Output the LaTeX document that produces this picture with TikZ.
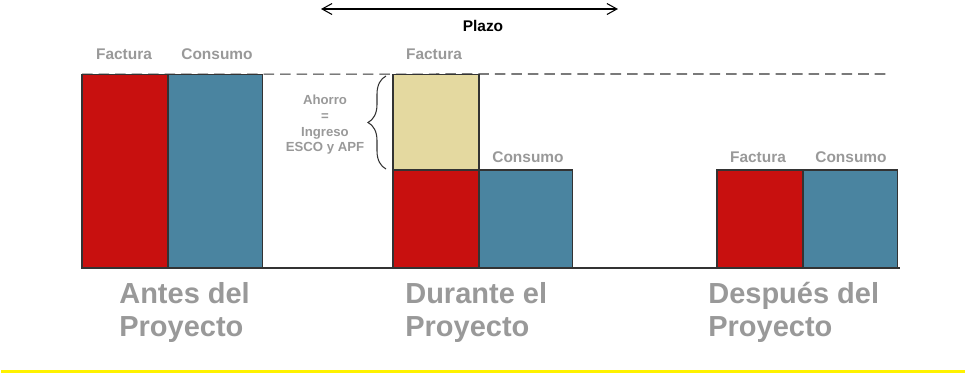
\documentclass[tikz,border=0pt]{standalone}
\usepackage{fontspec}
\setmainfont{Liberation Sans}
\usetikzlibrary{arrows.meta,positioning,decorations.pathreplacing}

\definecolor{factura}{HTML}{C8100F}
\definecolor{consumo}{HTML}{4A84A0}
\definecolor{ahorro}{HTML}{E4D9A0}
\definecolor{gristexto}{HTML}{999999}
\definecolor{linea}{HTML}{333333}

\begin{document}
\begin{tikzpicture}
[x=0.02cm, y=-0.02cm,
% STYLES
% bar is used for every column of the chart
bar/.style={rectangle, draw=linea, line width=0.6pt, inner sep=0pt, outer sep=0pt, minimum width=1.72cm},
% etiq is used for the small grey names above the columns
etiq/.style={anchor=base, inner sep=0pt, text=gristexto, font=\fontsize{8.8}{10.5}\selectfont\bfseries},
% fase is used for the three big names below the base line
fase/.style={anchor=north west, inner sep=0pt, align=left, text=gristexto, font=\fontsize{16.5}{18.8}\selectfont\bfseries},
% nota is used for the text beside the brace
nota/.style={anchor=north, inner sep=0pt, align=center, text=gristexto, font=\fontsize{7.5}{8.9}\selectfont\bfseries}]

\useasboundingbox (0,0) rectangle (965,373);

% Antes del proyecto
\node [bar, fill=factura, minimum height=3.88cm, anchor=south west] (antesfac) at (82,268) {};
\node [bar, fill=consumo, minimum height=3.88cm, minimum width=1.90cm, right=0pt of antesfac] (antescon) {};

% Durante el proyecto
\node [bar, fill=factura, minimum height=1.96cm, anchor=south west] (durfac) at (393,268) {};
\node [bar, fill=ahorro, minimum height=1.92cm, above=0pt of durfac] (durahorro) {};
\node [bar, fill=consumo, minimum height=1.96cm, minimum width=1.88cm, right=0pt of durfac] (durcon) {};

% Despues del proyecto
\node [bar, fill=factura, minimum height=1.96cm, anchor=south west] (despfac) at (717,268) {};
\node [bar, fill=consumo, minimum height=1.96cm, minimum width=1.90cm, right=0pt of despfac] (despcon) {};

% Base line and level of the old bill
\coordinate (base-a) at (82,268);
\coordinate (base-b) at (900,268);
\coordinate (nivel-b) at (890,74);
\draw [linea, line width=0.6pt] (base-a) -- (base-b);
\draw [linea, line width=0.6pt, dash pattern=on 6pt off 3.4pt] (antesfac.north west) -- (nivel-b);

%%%%%%%%%%%%%%%
% Labels of the columns
\node [etiq] (l-antesfac) at (124,59) {Factura};
\node [etiq] (l-antescon) at (217,59) {Consumo};
\node [etiq] (l-durfac) at (434,59) {Factura};
\node [etiq] (l-durcon) at (528,162) {Consumo};
\node [etiq] (l-despfac) at (758,162) {Factura};
\node [etiq] (l-despcon) at (851,162) {Consumo};

% Phases
\node [fase] (antes) at (119,282) {Antes del\\Proyecto};
\node [fase] (durante) at (405,282) {Durante el\\Proyecto};
\node [fase] (despues) at (708,282) {Despu\'es del\\Proyecto};

% Brace for the saving
\coordinate (llave-a) at (386,169);
\coordinate (llave-b) at (386,76);
\draw [linea, line width=0.6pt, decorate, decoration={brace, amplitude=0.36cm}] (llave-a) -- (llave-b);
\node [nota] (ahorro) at (325,95) {Ahorro\\=\\Ingreso\\ESCO y APF};

% Plazo
\coordinate (plazo-a) at (321,9);
\coordinate (plazo-b) at (618,9);
\draw [{Straight Barb[length=2mm,width=2.2mm]}-{Straight Barb[length=2mm,width=2.2mm]}, line width=0.6pt] (plazo-a) -- (plazo-b);
\node [etiq, text=black] (plazo) at (483,31) {Plazo};

% Yellow rule at the foot
\coordinate (pie-a) at (1,371.5);
\coordinate (pie-b) at (965,371.5);
\draw [yellow, line width=1.2pt] (pie-a) -- (pie-b);

\end{tikzpicture}
\end{document}
